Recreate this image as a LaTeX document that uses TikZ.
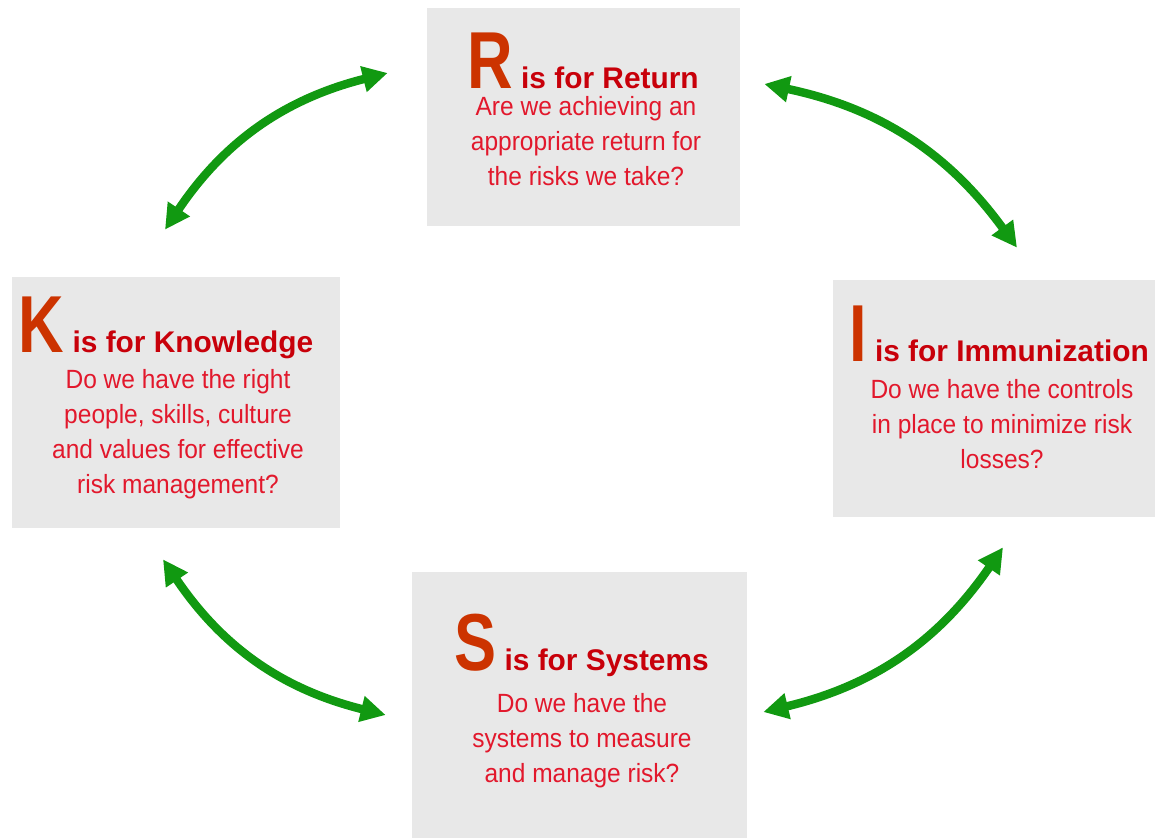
\documentclass[tikz,border=0pt]{standalone}
\usepackage{fontspec}
\setmainfont{Liberation Sans}
\newfontfamily\bodyfont[FakeStretch=0.93]{Liberation Sans}
\newfontfamily\letterfont[FakeStretch=0.78]{Liberation Sans}
\usepackage{tikz}
\usetikzlibrary{arrows.meta}

\definecolor{boxgray}{RGB}{232,232,232}
\definecolor{letterred}{RGB}{204,51,0}
\definecolor{headred}{RGB}{200,0,10}
\definecolor{textred}{RGB}{226,24,44}
\definecolor{arrowgreen}{RGB}{17,153,17}
\newcommand{\capletter}[1]{{\letterfont\bfseries\fontsize{46}{46}\selectfont\color{letterred}#1}}

\begin{document}
\begin{tikzpicture}[x=0.02cm,y=-0.02cm,
	box/.style={fill=boxgray,inner sep=0pt},
	head/.style={anchor=base,inner sep=0pt,text=headred,font=\bfseries\fontsize{17}{20}\selectfont},
	body/.style={anchor=north,inner sep=0pt,align=center,text=textred,font=\bodyfont\fontsize{15}{19.9}\selectfont},
	link/.style={line width=4.8pt,draw=arrowgreen,{Triangle[length=0.5cm,width=0.5cm]}-{Triangle[length=0.5cm,width=0.5cm]},bend left=21}]
	\useasboundingbox (0,0) rectangle (1155,838);
	
	% boxes
	\node[box,minimum width=6.26cm,minimum height=4.38cm] (R) at (583.5,117) {};
	\node[box,minimum width=6.56cm,minimum height=5.02cm] (K) at (176,402.5) {};
	\node[box,minimum width=6.44cm,minimum height=4.74cm] (I) at (994,398.5) {};
	\node[box,minimum width=6.70cm,minimum height=5.32cm] (S) at (579.5,705) {};
	
	% R
	\node[head] (Rhead) at (583,89) {\capletter{R} is for Return};
	\node[body] (Rtext) at (586,96) {Are we achieving an\\appropriate return for\\the risks we take?};
	
	% K
	\node[head] (Khead) at (166,352) {\capletter{K} is for Knowledge};
	\node[body] (Ktext) at (178,369) {Do we have the right\\people, skills, culture\\and values for effective\\risk management?};
	
	% I
	\node[head] (Ihead) at (999,361) {\capletter{I} is for Immunization};
	\node[body] (Itext) at (1002,379) {Do we have the controls\\in place to minimize risk\\losses?};
	
	% S
	\node[head] (Shead) at (581.5,670) {\capletter{S} is for Systems};
	\node[body] (Stext) at (582,693) {Do we have the\\systems to measure\\and manage risk?};
	
	% arrows
	\draw[link] ([shift={(-11,-47)}]K.north) to ([shift={(-39,-44)}]R.west);
	\draw[link] ([shift={(24,-33)}]R.east) to ([shift={(23,-32)}]I.north);
	\draw[link] ([shift={(9,30)}]I.south) to ([shift={(16,7)}]S.east);
	\draw[link] ([shift={(-26,10)}]S.west) to ([shift={(-13,31)}]K.south);
\end{tikzpicture}
\end{document}
